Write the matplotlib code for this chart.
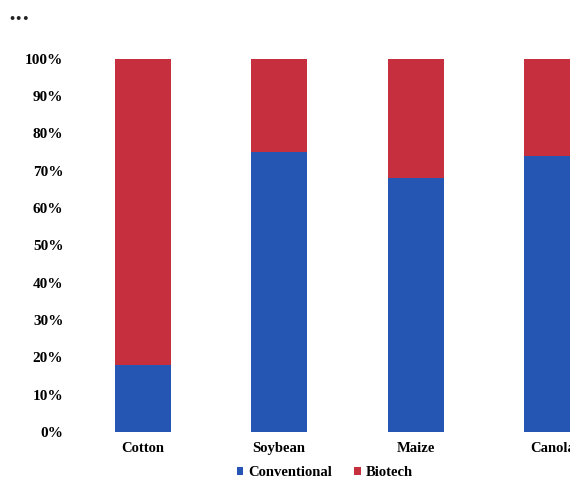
import matplotlib.pyplot as plt

crops = ['Cotton', 'Soybean', 'Maize', 'Canola']
conventional = [18, 75, 68, 74]
biotech = [82, 25, 32, 26]
y_ticks = [0, 10, 20, 30, 40, 50, 60, 70, 80, 90, 100]

blue = '#2656b4'
red = '#c52f3e'

plt.rcParams['font.family'] = ['Liberation Serif', 'DejaVu Serif']
plt.rcParams['font.weight'] = 'bold'

fig = plt.figure(figsize=(5.7, 4.84), dpi=100)
ax = fig.add_axes([80 / 570, 52 / 484, 490 / 570, 373.5 / 484])

x = list(range(len(crops)))
ax.bar(x, conventional, width=0.41, color=blue, label='Conventional')
ax.bar(x, biotech, width=0.41, bottom=conventional, color=red, label='Biotech')

ax.set_xlim(-0.458, 3.13)
ax.set_ylim(0, 100)
ax.set_yticks(y_ticks)
ax.set_yticklabels([f'{v}%' for v in y_ticks], fontsize=11, fontweight='bold')
ax.set_xticks(x)
ax.set_xticklabels(crops, fontsize=10.5, fontweight='bold')
ax.tick_params(axis='y', length=0, pad=12)
ax.tick_params(axis='x', length=0, pad=7)
for s in ax.spines.values():
    s.set_visible(False)

ax.legend(loc='upper center', bbox_to_anchor=(0.5, -0.064), ncol=2, frameon=False,
          handlelength=0.45, handleheight=0.45, handletextpad=0.35,
          columnspacing=1.5, borderpad=0.2, prop={'weight': 'bold', 'size': 10.5})

fig.text(0.015, 0.955, '\u2022\u2022\u2022', fontsize=8, color='#222222', family='DejaVu Sans')

fig.savefig('out.png', dpi=100)
